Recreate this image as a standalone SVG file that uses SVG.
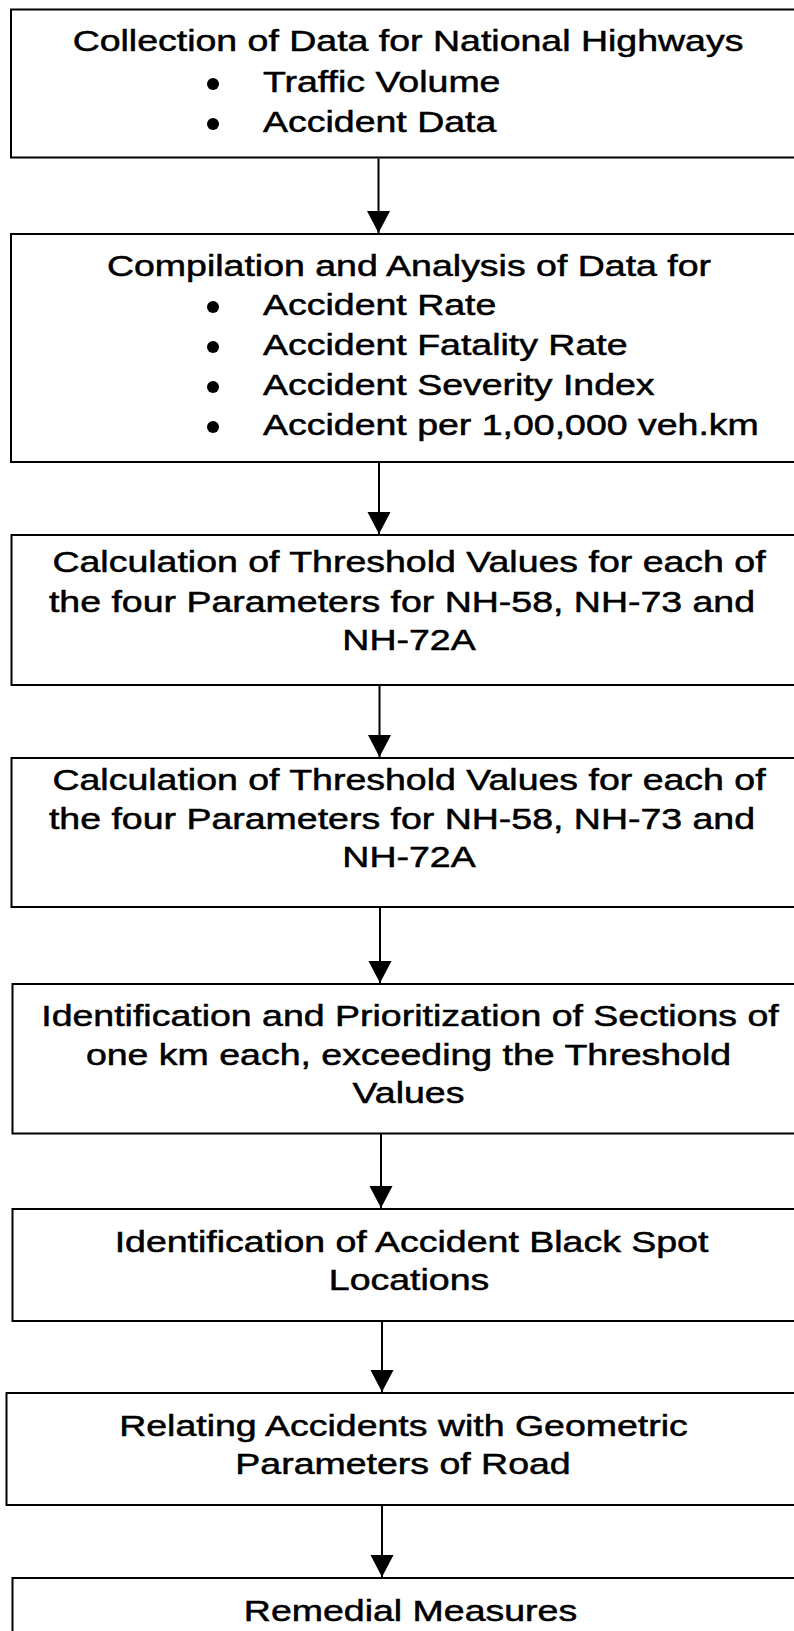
<svg xmlns="http://www.w3.org/2000/svg" width="794" height="1631" viewBox="0 0 794 1631">
<style>
.box{fill:#fff;stroke:#000;stroke-width:2}
.t{font-family:"Liberation Sans",Arial,sans-serif;font-size:29px;fill:#000;stroke:#000;stroke-width:0.5}
.c{text-anchor:middle}
.b{fill:#000}
.conn line{stroke:#000;stroke-width:2}
</style>
<defs>
<marker id="ah" markerUnits="userSpaceOnUse" markerWidth="22" markerHeight="24" refX="21" refY="11" orient="auto" viewBox="0 0 21 22">
<path d="M0,0 L21,11 L0,22 Z" fill="#000"/>
</marker>
</defs>
<rect width="794" height="1631" fill="#fff"/>

<g id="n1">
<rect class="box" x="11" y="9.5" width="800" height="148"/>
<text class="t c" transform="translate(408,51) scale(1.293,1)">Collection of Data for National Highways</text>
<circle class="b" cx="213" cy="84" r="6"/>
<text class="t" transform="translate(263,91.5) scale(1.293,1)">Traffic Volume</text>
<circle class="b" cx="213" cy="124" r="6"/>
<text class="t" transform="translate(263,131.5) scale(1.293,1)">Accident Data</text>
</g>

<g id="n2">
<rect class="box" x="11" y="234" width="800" height="228"/>
<text class="t c" transform="translate(409,275.5) scale(1.293,1)">Compilation and Analysis of Data for</text>
<circle class="b" cx="213" cy="307" r="6"/>
<text class="t" transform="translate(263,314.5) scale(1.293,1)">Accident Rate</text>
<circle class="b" cx="213" cy="347" r="6"/>
<text class="t" transform="translate(263,354.5) scale(1.293,1)">Accident Fatality Rate</text>
<circle class="b" cx="213" cy="387" r="6"/>
<text class="t" transform="translate(263,394.5) scale(1.293,1)">Accident Severity Index</text>
<circle class="b" cx="213" cy="427" r="6"/>
<text class="t" transform="translate(263,434.5) scale(1.293,1)">Accident per 1,00,000 veh.km</text>
</g>

<g id="n3">
<rect class="box" x="11.5" y="535" width="800" height="150"/>
<text class="t c" transform="translate(409,572) scale(1.293,1)">Calculation of Threshold Values for each of</text>
<text class="t c" transform="translate(402,611.5) scale(1.293,1)">the four Parameters for NH-58, NH-73 and</text>
<text class="t c" transform="translate(409,650) scale(1.293,1)">NH-72A</text>
</g>

<g id="n4">
<rect class="box" x="11.5" y="758" width="800" height="149"/>
<text class="t c" transform="translate(409,789.5) scale(1.293,1)">Calculation of Threshold Values for each of</text>
<text class="t c" transform="translate(402,829) scale(1.293,1)">the four Parameters for NH-58, NH-73 and</text>
<text class="t c" transform="translate(409,867) scale(1.293,1)">NH-72A</text>
</g>

<g id="n5">
<rect class="box" x="12.5" y="984" width="800" height="149.5"/>
<text class="t c" transform="translate(410,1025.5) scale(1.293,1)">Identification and Prioritization of Sections of</text>
<text class="t c" transform="translate(408.5,1064.5) scale(1.293,1)">one km each, exceeding the Threshold</text>
<text class="t c" transform="translate(408.5,1102.5) scale(1.293,1)">Values</text>
</g>

<g id="n6">
<rect class="box" x="12.5" y="1209" width="800" height="112"/>
<text class="t c" transform="translate(411.5,1251.5) scale(1.293,1)">Identification of Accident Black Spot</text>
<text class="t c" transform="translate(409,1289.5) scale(1.293,1)">Locations</text>
</g>

<g id="n7">
<rect class="box" x="6.5" y="1393" width="800" height="112"/>
<text class="t c" transform="translate(403.5,1436) scale(1.293,1)">Relating Accidents with Geometric</text>
<text class="t c" transform="translate(403,1473.5) scale(1.293,1)">Parameters of Road</text>
</g>

<g id="n8">
<rect class="box" x="12.5" y="1578" width="800" height="80"/>
<text class="t c" transform="translate(410.5,1620.5) scale(1.293,1)">Remedial Measures</text>
</g>

<g id="connectors" class="conn">
<line x1="378.5" y1="158.5" x2="378.5" y2="233" marker-end="url(#ah)"/>
<line x1="379" y1="462" x2="379" y2="534" marker-end="url(#ah)"/>
<line x1="379.5" y1="685" x2="379.5" y2="757" marker-end="url(#ah)"/>
<line x1="380" y1="907" x2="380" y2="983" marker-end="url(#ah)"/>
<line x1="381" y1="1133.5" x2="381" y2="1208" marker-end="url(#ah)"/>
<line x1="382" y1="1321" x2="382" y2="1392" marker-end="url(#ah)"/>
<line x1="382" y1="1505" x2="382" y2="1577" marker-end="url(#ah)"/>
</g>
</svg>
